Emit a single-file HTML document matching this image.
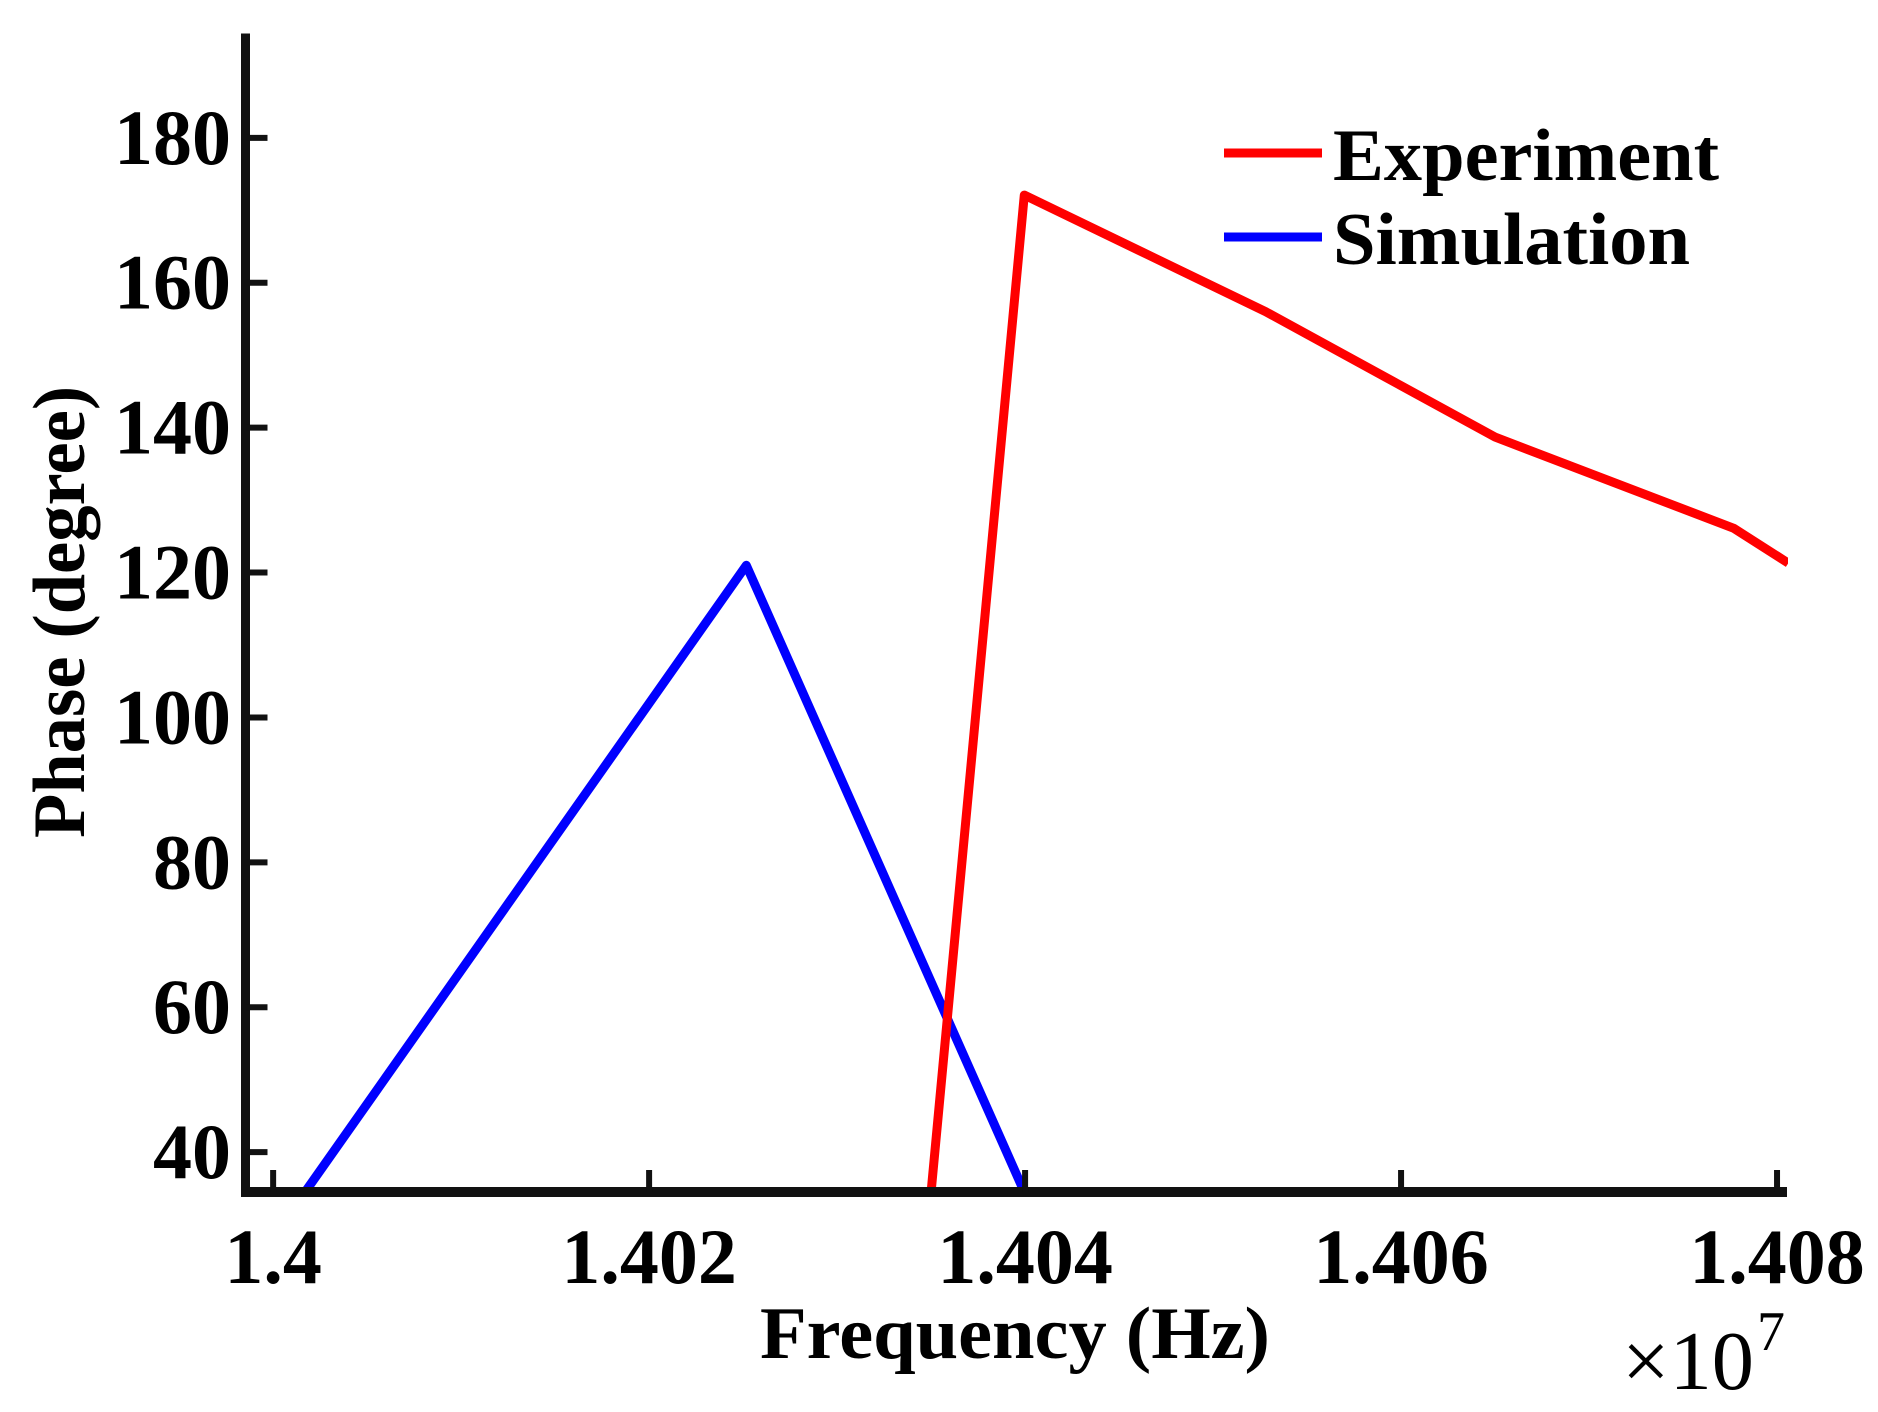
<!DOCTYPE html>
<html><head><meta charset="utf-8"><style>
html,body{margin:0;padding:0;background:#fff;}
svg{display:block;font-family:"Liberation Serif",serif;font-weight:bold;}
</style></head><body>
<svg id="chart" width="1878" height="1412" viewBox="0 0 1878 1412" xmlns="http://www.w3.org/2000/svg">
<defs><clipPath id="plotclip"><rect x="245" y="33" width="1543" height="1159"/></clipPath></defs>
<g id="series" clip-path="url(#plotclip)"></g>
<g id="axes"></g>
<g>
  <line x1="1224" y1="153" x2="1322" y2="153" stroke="#ff0000" stroke-width="9"/>
  <text x="1333" y="180" font-size="74" textLength="386" lengthAdjust="spacingAndGlyphs">Experiment</text>
  <line x1="1224" y1="237" x2="1322" y2="237" stroke="#0000ff" stroke-width="9"/>
  <text x="1333" y="264" font-size="74" textLength="357" lengthAdjust="spacingAndGlyphs">Simulation</text>
</g>
<text x="1015" y="1358" font-size="74" text-anchor="middle" textLength="510" lengthAdjust="spacingAndGlyphs">Frequency (Hz)</text>
<text transform="translate(84,612) rotate(-90)" font-size="74" text-anchor="middle" textLength="452" lengthAdjust="spacingAndGlyphs">Phase (degree)</text>
<text x="1622" y="1389" font-size="84" font-weight="normal" textLength="132" lengthAdjust="spacingAndGlyphs">×10</text>
<text x="1757" y="1350" font-size="56" font-weight="normal">7</text>
</svg>
<script>
const xTicks = [1.4, 1.402, 1.404, 1.406, 1.408];
const xTickLabels = ["1.4", "1.402", "1.404", "1.406", "1.408"];
const yTicks = [40, 60, 80, 100, 120, 140, 160, 180];
const yTickLabels = ["40", "60", "80", "100", "120", "140", "160", "180"];
const expX = [1.40350, 1.403996, 1.40528, 1.40650, 1.40777, 1.40806];
const expY = [34.5, 172.1, 156.0, 138.7, 126.1, 121.3];
const simX = [1.40017, 1.402517, 1.403996];
const simY = [34.5, 121.0, 34.5];

const X0 = 245.5, X1 = 1787, Y0 = 1192, Y1 = 33.5;
const xMin = 1.399853, xMax = 1.408053, yMin = 34.5, yMax = 194.4;
function sx(v){ return X0 + (v - xMin) / (xMax - xMin) * (X1 - X0); }
function sy(v){ return Y0 - (v - yMin) / (yMax - yMin) * (Y0 - Y1); }
const NS = "http://www.w3.org/2000/svg";
const series = document.getElementById("series");
const axes = document.getElementById("axes");
function mk(tag, attrs, parent){
  const e = document.createElementNS(NS, tag);
  for (const k in attrs) e.setAttribute(k, attrs[k]);
  parent.appendChild(e);
  return e;
}
function drawLine(xs, ys, color, name){
  const pts = xs.map((x,i)=>sx(x).toFixed(1)+","+sy(ys[i]).toFixed(1)).join(" ");
  const p = mk("polyline", {points: pts, fill: "none", stroke: color, "stroke-width": 9, "stroke-linejoin": "round"}, series);
  
  
}
drawLine(simX, simY, "#0000ff", "simulation-line");
drawLine(expX, expY, "#ff0000", "experiment-line");

const yAxis = mk("line", {x1: X0, y1: Y1, x2: X0, y2: Y0 + 5, stroke: "#111", "stroke-width": 9}, axes);


const xAxis = mk("line", {x1: X0 - 4, y1: Y0, x2: X1, y2: Y0, stroke: "#111", "stroke-width": 10}, axes);



yTicks.forEach((v,i)=>{
  const y = sy(v);
  const t = mk("line", {x1: X0, y1: y, x2: X0 + 22, y2: y, stroke: "#111", "stroke-width": 6}, axes);
  
  
  const lab = mk("text", {x: 231, y: y + 26, "font-size": 78, "text-anchor": "end"}, axes);
  lab.textContent = yTickLabels[i];
  
  
});
xTicks.forEach((v,i)=>{
  const x = sx(v);
  const t = mk("line", {x1: x, y1: Y0, x2: x, y2: Y0 - 22, stroke: "#111", "stroke-width": 6}, axes);
  
  
  const lab = mk("text", {x: x, y: 1283, "font-size": 78, "text-anchor": "middle"}, axes);
  lab.textContent = xTickLabels[i];
  
  
});
</script>
</body></html>
